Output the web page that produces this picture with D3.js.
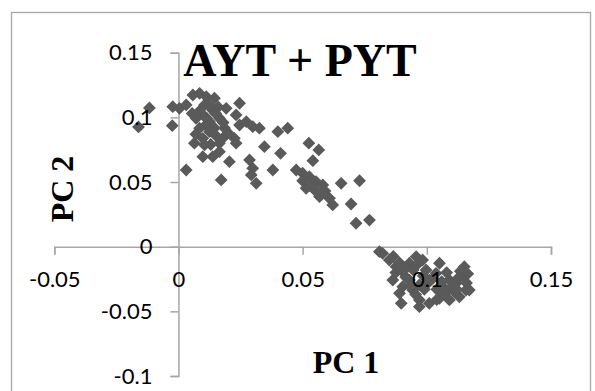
<!DOCTYPE html>
<html>
<head>
<meta charset="utf-8">
<script src="https://cdn.jsdelivr.net/npm/d3@7"></script>
<style>
  body { margin: 0; background: #fff; }
  .tick text { font-family: Lato, "Open Sans", sans-serif; font-size: 22px; fill: #000; }
  .axisTitle { font-family: "Liberation Serif", "Times New Roman", serif; font-weight: bold; fill: #000; }
</style>
</head>
<body>
<div id="chart"></div>
<script>
let svgWidth = 595;
let svgHeight = 391;

// data (PC 1, PC 2)
let pc1 = [
  -0.0117, -0.0161, -0.0023, -0.0025, 0.0004, 0.0031, 0.0058, 0.0085, 0.0112, 0.0145,
  0.0192, 0.0246, 0.0071, 0.0098, 0.0125, 0.0165, 0.0085, 0.0125, 0.0064, 0.0098,
  0.0165, 0.0178, 0.0098, 0.0138, 0.0165, 0.0205, 0.0232, 0.0246, 0.0273, 0.0299,
  0.0326, 0.0225, 0.0232, 0.0346, 0.0400, 0.0031, 0.0172, 0.0286, 0.0299, 0.0293,
  0.0313, 0.0380, 0.0411, 0.0440, 0.0105, 0.0137, 0.0113, 0.0145, 0.0133, 0.0185,
  0.0105, 0.0085, 0.0120, 0.0150, 0.0110, 0.0150, 0.0070, 0.0180, 0.0200, 0.0055,
  0.0130, 0.0160,
  0.0525, 0.0565, 0.0541, 0.0474, 0.0500, 0.0527, 0.0554, 0.0581, 0.0514, 0.0548,
  0.0568, 0.0608, 0.0621, 0.0655, 0.0729, 0.0695, 0.0715, 0.0769, 0.0530, 0.0560,
  0.0590, 0.0500,
  0.0809, 0.0822, 0.0849, 0.0876, 0.0903, 0.0930, 0.0957, 0.0983, 0.0903, 0.0897,
  0.0943, 0.0970, 0.1010, 0.1037, 0.1064, 0.1091, 0.1118, 0.1145, 0.1158, 0.1131,
  0.1091, 0.1051, 0.1010, 0.0970, 0.0890, 0.0863, 0.0997, 0.1051, 0.1171, 0.1151,
  0.0930, 0.0970, 0.1111, 0.0865, 0.0890, 0.0915, 0.0945, 0.0960, 0.0985, 0.1000,
  0.1025, 0.1040, 0.1075, 0.1100, 0.1125, 0.1135, 0.1160, 0.1080, 0.0915, 0.0935,
  0.0955, 0.1040, 0.1120, 0.0875, 0.0990, 0.1060, 0.1165
];
let pc2 = [
  0.1073, 0.0926, 0.1083, 0.0936, 0.1070, 0.1096, 0.1173, 0.1186, 0.1160, 0.1148,
  0.1070, 0.1109, 0.0993, 0.1019, 0.0967, 0.0993, 0.0916, 0.0889, 0.0800, 0.0838,
  0.0800, 0.0838, 0.0696, 0.0696, 0.0735, 0.0657, 0.1019, 0.0941, 0.0967, 0.0928,
  0.0916, 0.0838, 0.0800, 0.0773, 0.0889, 0.0593, 0.0516, 0.0671, 0.0606, 0.0555,
  0.0490, 0.0593, 0.0722, 0.0916, 0.1096, 0.1057, 0.0995, 0.0918, 0.1073, 0.0918,
  0.0787, 0.1050, 0.1100, 0.1030, 0.0940, 0.0860, 0.0870, 0.0960, 0.0880, 0.1030,
  0.0790, 0.1080,
  0.0800, 0.0748, 0.0665, 0.0593, 0.0568, 0.0541, 0.0503, 0.0477, 0.0452, 0.0439,
  0.0387, 0.0374, 0.0323, 0.0490, 0.0510, 0.0330, 0.0181, 0.0206, 0.0470, 0.0420,
  0.0430, 0.0510,
  -0.0039, -0.0051, -0.0103, -0.0155, -0.0193, -0.0128, -0.0077, -0.0103, -0.0309, -0.0438,
  -0.0335, -0.0412, -0.0258, -0.0206, -0.0309, -0.0258, -0.0283, -0.0232, -0.0335, -0.0387,
  -0.0412, -0.0399, -0.0438, -0.0464, -0.0360, -0.0258, -0.0180, -0.0128, -0.0335, -0.0155,
  -0.0258, -0.0296, -0.0350, -0.0075, -0.0125, -0.0160, -0.0180, -0.0140, -0.0225, -0.0290,
  -0.0245, -0.0330, -0.0355, -0.0310, -0.0245, -0.0190, -0.0280, -0.0200, -0.0235, -0.0300,
  -0.0370, -0.0410, -0.0330, -0.0200, -0.0330, -0.0270, -0.0210
];

let xTicks = [-0.05, 0, 0.05, 0.1, 0.15];
let yTicks = [-0.1, -0.05, 0, 0.05, 0.1, 0.15];

let title = "AYT + PYT";
let xTitle = "PC 1";
let yTitle = "PC 2";

let data = pc1.map((v, i) => ({ x: v, y: pc2[i] }));

let svg = d3.select("#chart")
  .append("svg")
  .attr("width", svgWidth)
  .attr("height", svgHeight);

// outer chart border
svg.append("rect")
  .attr("x", 11.5)
  .attr("y", 12.5)
  .attr("width", 579)
  .attr("height", 400)
  .attr("fill", "none")
  .attr("stroke", "#a6a6a6")
  .attr("stroke-width", 1.3);

let xScale = d3.scaleLinear()
  .domain([-0.05, 0.15])
  .range([54.3, 551]);

let yScale = d3.scaleLinear()
  .domain([-0.1, 0.15])
  .range([376, 52.7]);

// Excel style labels with a plain hyphen
let fmt = d => d === 0 ? "0" : String(+d.toFixed(2));

let bottomAxis = d3.axisBottom(xScale)
  .tickValues(xTicks)
  .tickSize(8)
  .tickPadding(17)
  .tickFormat(fmt);

let leftAxis = d3.axisLeft(yScale)
  .tickValues(yTicks)
  .tickSize(8)
  .tickPadding(18)
  .tickFormat(fmt);

// axis lines first (under the points)
let lines = svg.append("g");
lines.append("g").attr("transform", `translate(0, ${yScale(0)})`)
  .call(bottomAxis).selectAll("text").remove();
lines.append("g").attr("transform", `translate(${xScale(0)}, 0)`)
  .call(leftAxis).selectAll("text").remove();
lines.selectAll(".domain, .tick line").attr("stroke", "#a6a6a6").attr("stroke-width", 1.5);

// diamonds
let r = 6.4;
let diamond = `M0,${-r}L${r},0L0,${r}L${-r},0Z`;

svg.append("g")
  .selectAll("path")
  .data(data)
  .enter()
  .append("path")
  .attr("d", diamond)
  .attr("transform", d => `translate(${xScale(d.x)}, ${yScale(d.y)})`)
  .attr("fill", "#5a5a5a");

// tick labels on top of the points
let xAxisG = svg.append("g")
  .attr("transform", `translate(0, ${yScale(0)})`)
  .call(bottomAxis);

let yAxisG = svg.append("g")
  .attr("transform", `translate(${xScale(0)}, 0)`)
  .call(leftAxis);

[xAxisG, yAxisG].forEach(g => {
  g.selectAll(".domain, .tick line").remove();
  g.attr("font-family", null).attr("font-size", null);
});

// titles
svg.append("text")
  .attr("class", "axisTitle")
  .attr("x", 300)
  .attr("y", 76)
  .attr("text-anchor", "middle")
  .attr("font-size", 46)
  .text(title);

svg.append("text")
  .attr("class", "axisTitle")
  .attr("x", 346)
  .attr("y", 373)
  .attr("text-anchor", "middle")
  .attr("font-size", 32)
  .text(xTitle);

svg.append("text")
  .attr("class", "axisTitle")
  .attr("transform", "translate(73, 189) rotate(-90)")
  .attr("text-anchor", "middle")
  .attr("font-size", 32)
  .text(yTitle);
</script>
</body>
</html>
